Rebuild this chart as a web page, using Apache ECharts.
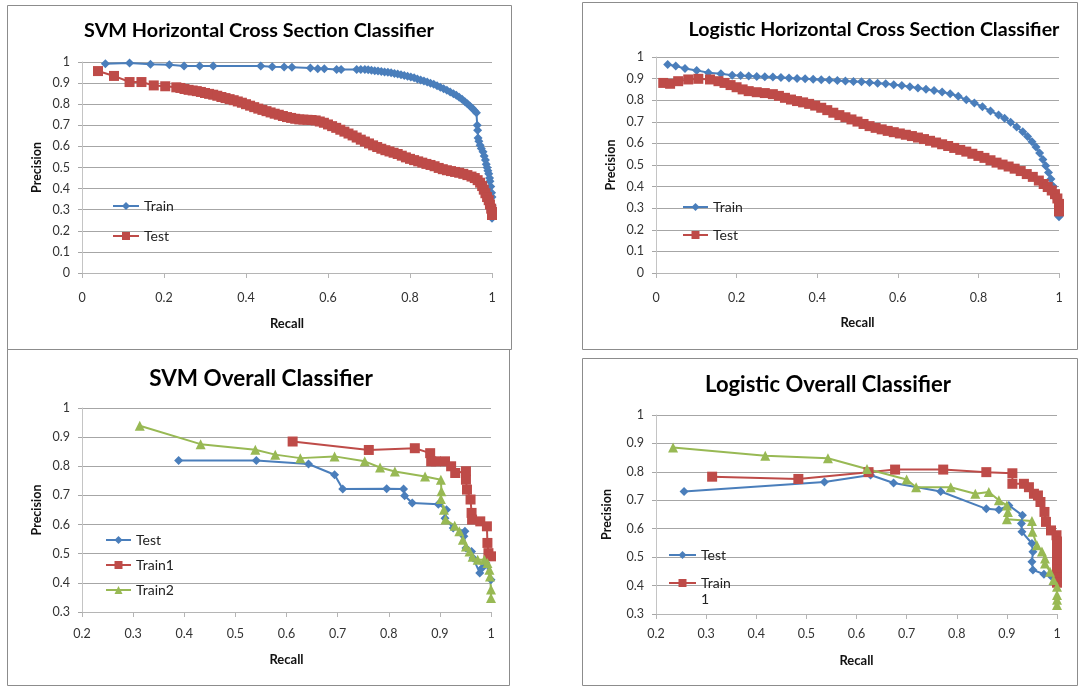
<!DOCTYPE html>
<html>
<head>
<meta charset="utf-8">
<script src="https://cdn.jsdelivr.net/npm/echarts@6/dist/echarts.min.js"></script>
<style>
html,body{margin:0;padding:0;background:#fff;}
#c{position:absolute;left:0;top:0;width:1079px;height:686px;}
</style>
</head>
<body>
<div id="c"></div>
<script>
// ---------- Data (recall, precision) ----------
const svmHcsTrain = [[0.057,0.992],[0.116,0.995],[0.167,0.989],[0.213,0.987],[0.249,0.981],[0.287,0.981],[0.320,0.981],[0.436,0.981],[0.464,0.978],[0.493,0.976],[0.512,0.975],[0.557,0.972],[0.575,0.968],[0.591,0.968],[0.621,0.965],[0.632,0.965],[0.670,0.965],[0.680,0.965],[0.690,0.964],[0.698,0.963],[0.706,0.961],[0.714,0.959],[0.722,0.957],[0.730,0.955],[0.738,0.953],[0.746,0.951],[0.754,0.949],[0.762,0.946],[0.770,0.943],[0.778,0.940],[0.786,0.936],[0.794,0.933],[0.802,0.929],[0.810,0.925],[0.818,0.920],[0.826,0.915],[0.834,0.910],[0.842,0.905],[0.850,0.899],[0.858,0.894],[0.866,0.887],[0.874,0.880],[0.882,0.873],[0.890,0.866],[0.898,0.858],[0.906,0.850],[0.913,0.842],[0.920,0.833],[0.927,0.823],[0.934,0.812],[0.940,0.802],[0.946,0.792],[0.952,0.781],[0.957,0.770],[0.962,0.760],[0.964,0.700],[0.965,0.676],[0.966,0.640],[0.968,0.625],[0.971,0.605],[0.974,0.590],[0.978,0.575],[0.981,0.555],[0.984,0.535],[0.986,0.515],[0.988,0.500],[0.990,0.485],[0.992,0.470],[0.994,0.450],[0.995,0.435],[0.997,0.410],[0.999,0.380],[1.000,0.360],[1.000,0.320],[1.000,0.290],[1.000,0.260]];
const svmHcsTest = [[0.039,0.957],[0.078,0.934],[0.116,0.905],[0.145,0.905],[0.175,0.889],[0.203,0.885],[0.230,0.880],[0.240,0.877],[0.250,0.872],[0.260,0.868],[0.270,0.865],[0.280,0.862],[0.290,0.858],[0.300,0.853],[0.310,0.849],[0.320,0.845],[0.330,0.840],[0.340,0.834],[0.350,0.829],[0.360,0.824],[0.370,0.819],[0.380,0.813],[0.390,0.807],[0.400,0.800],[0.410,0.793],[0.420,0.786],[0.430,0.779],[0.440,0.773],[0.450,0.767],[0.460,0.761],[0.470,0.755],[0.480,0.750],[0.490,0.744],[0.500,0.739],[0.510,0.735],[0.520,0.731],[0.530,0.728],[0.540,0.727],[0.550,0.726],[0.560,0.725],[0.570,0.723],[0.580,0.718],[0.590,0.712],[0.600,0.704],[0.610,0.696],[0.620,0.688],[0.630,0.679],[0.640,0.670],[0.650,0.661],[0.660,0.652],[0.670,0.642],[0.680,0.632],[0.690,0.623],[0.700,0.614],[0.710,0.605],[0.720,0.597],[0.730,0.589],[0.740,0.582],[0.750,0.576],[0.760,0.570],[0.770,0.564],[0.780,0.556],[0.790,0.548],[0.800,0.541],[0.810,0.535],[0.820,0.529],[0.830,0.523],[0.840,0.517],[0.850,0.512],[0.860,0.506],[0.870,0.498],[0.880,0.492],[0.890,0.487],[0.900,0.483],[0.910,0.479],[0.920,0.475],[0.930,0.470],[0.940,0.464],[0.950,0.457],[0.958,0.450],[0.965,0.440],[0.971,0.428],[0.976,0.412],[0.980,0.395],[0.984,0.378],[0.988,0.360],[0.992,0.345],[0.995,0.325],[0.998,0.305],[1.000,0.290],[1.000,0.275]];
const logHcsTrain = [[0.029,0.965],[0.049,0.958],[0.072,0.947],[0.101,0.938],[0.130,0.927],[0.161,0.922],[0.189,0.916],[0.210,0.914],[0.230,0.912],[0.250,0.910],[0.270,0.909],[0.290,0.907],[0.310,0.905],[0.330,0.903],[0.350,0.901],[0.370,0.899],[0.390,0.897],[0.410,0.895],[0.430,0.893],[0.450,0.891],[0.470,0.889],[0.490,0.887],[0.510,0.885],[0.530,0.882],[0.550,0.879],[0.570,0.876],[0.590,0.872],[0.610,0.868],[0.630,0.862],[0.650,0.857],[0.670,0.851],[0.690,0.845],[0.710,0.838],[0.730,0.830],[0.750,0.818],[0.770,0.802],[0.790,0.787],[0.810,0.770],[0.830,0.750],[0.850,0.732],[0.865,0.716],[0.880,0.698],[0.895,0.676],[0.910,0.654],[0.922,0.632],[0.933,0.608],[0.943,0.583],[0.952,0.555],[0.960,0.525],[0.967,0.497],[0.974,0.465],[0.980,0.435],[0.986,0.400],[0.991,0.370],[0.995,0.340],[0.998,0.310],[1.000,0.285],[1.000,0.260]];
const logHcsTest = [[0.018,0.880],[0.035,0.876],[0.055,0.888],[0.080,0.896],[0.105,0.899],[0.134,0.896],[0.155,0.888],[0.170,0.880],[0.185,0.870],[0.200,0.860],[0.215,0.850],[0.230,0.842],[0.250,0.837],[0.270,0.833],[0.290,0.828],[0.305,0.820],[0.320,0.811],[0.335,0.803],[0.350,0.796],[0.365,0.790],[0.380,0.783],[0.395,0.775],[0.410,0.765],[0.425,0.754],[0.440,0.742],[0.455,0.731],[0.470,0.721],[0.485,0.711],[0.500,0.701],[0.515,0.690],[0.530,0.680],[0.545,0.672],[0.560,0.665],[0.575,0.658],[0.590,0.652],[0.605,0.646],[0.620,0.640],[0.635,0.634],[0.650,0.627],[0.665,0.620],[0.680,0.612],[0.695,0.604],[0.710,0.596],[0.725,0.588],[0.740,0.579],[0.755,0.570],[0.770,0.562],[0.785,0.552],[0.800,0.542],[0.815,0.533],[0.830,0.522],[0.845,0.511],[0.860,0.502],[0.875,0.493],[0.890,0.483],[0.905,0.472],[0.920,0.458],[0.935,0.445],[0.950,0.428],[0.962,0.412],[0.972,0.398],[0.982,0.382],[0.990,0.365],[0.996,0.345],[1.000,0.320],[1.000,0.285]];
const svmOvTest = [[0.389,0.820],[0.541,0.820],[0.643,0.808],[0.694,0.771],[0.710,0.722],[0.796,0.723],[0.829,0.722],[0.831,0.699],[0.846,0.674],[0.897,0.670],[0.913,0.651],[0.910,0.622],[0.926,0.588],[0.949,0.577],[0.947,0.560],[0.951,0.520],[0.962,0.508],[0.965,0.485],[0.978,0.434],[0.982,0.450],[0.990,0.468],[1.000,0.411]];
const svmOvTrain1 = [[0.612,0.885],[0.761,0.856],[0.851,0.862],[0.881,0.845],[0.883,0.817],[0.892,0.817],[0.910,0.817],[0.922,0.800],[0.930,0.777],[0.951,0.783],[0.951,0.754],[0.953,0.720],[0.960,0.686],[0.962,0.640],[0.963,0.617],[0.979,0.611],[0.992,0.594],[0.993,0.537],[0.995,0.502],[1.000,0.491]];
const svmOvTrain2 = [[0.313,0.939],[0.432,0.876],[0.539,0.857],[0.578,0.840],[0.627,0.828],[0.694,0.834],[0.753,0.817],[0.783,0.796],[0.812,0.782],[0.871,0.765],[0.902,0.754],[0.903,0.714],[0.902,0.688],[0.908,0.651],[0.911,0.617],[0.929,0.596],[0.938,0.577],[0.945,0.548],[0.951,0.525],[0.958,0.508],[0.964,0.490],[0.974,0.479],[0.987,0.479],[0.993,0.468],[0.997,0.445],[0.998,0.422],[1.000,0.377],[1.000,0.348]];
const logOvTest = [[0.256,0.731],[0.536,0.764],[0.628,0.789],[0.674,0.761],[0.768,0.731],[0.859,0.670],[0.884,0.667],[0.904,0.682],[0.931,0.647],[0.929,0.618],[0.930,0.589],[0.950,0.548],[0.952,0.519],[0.950,0.484],[0.952,0.455],[0.974,0.440],[0.990,0.430],[1.000,0.410]];
const logOvTrain1 = [[0.312,0.783],[0.484,0.775],[0.624,0.799],[0.677,0.808],[0.773,0.808],[0.859,0.799],[0.911,0.795],[0.911,0.758],[0.934,0.758],[0.944,0.746],[0.954,0.723],[0.962,0.717],[0.967,0.694],[0.975,0.659],[0.978,0.624],[0.988,0.594],[0.999,0.577],[1.000,0.555],[1.000,0.530],[1.000,0.505],[1.000,0.480],[1.000,0.455],[1.000,0.430],[1.000,0.410]];
const logOvTrain2 = [[0.234,0.886],[0.418,0.857],[0.543,0.848],[0.621,0.810],[0.700,0.773],[0.719,0.746],[0.788,0.746],[0.837,0.723],[0.864,0.729],[0.884,0.700],[0.900,0.682],[0.902,0.659],[0.900,0.633],[0.950,0.627],[0.951,0.589],[0.960,0.542],[0.970,0.520],[0.976,0.495],[0.976,0.478],[0.986,0.449],[0.993,0.420],[1.000,0.396],[1.000,0.367],[1.000,0.350],[1.000,0.332]];

const titles = ['SVM Horizontal Cross Section Classifier','Logistic Horizontal Cross Section Classifier','SVM Overall Classifier','Logistic Overall Classifier'];
const xAxisTitle = 'Recall';
const yAxisTitle = 'Precision';
const labelMap = {
  'tlTrain':'Train','tlTest':'Test','trTrain':'Train','trTest':'Test',
  'blTest':'Test','blTrain1':'Train1','blTrain2':'Train2',
  'brTest':'Test','brTrain1':'\nTrain\n1','brTrain2':'Train2'
};

// ---------- Styling ----------
const FONT = 'Lato, "Open Sans", "DejaVu Sans", sans-serif';
const BLUE = '#4a7ebb', RED = '#be4b48', GREEN = '#98b954';
const GRID_C = '#a6a6a6';

const grids = [
  {left:82, top:62, width:410, height:211},
  {left:656, top:57, width:403, height:216},
  {left:82, top:408, width:409, height:204},
  {left:656, top:415, width:401, height:199}
];
const xr = [[0,1,0.2],[0,1,0.2],[0.2,1,0.1],[0.2,1,0.1]];
const yr = [[0,1,0.1],[0,1,0.1],[0.3,1,0.1],[0.3,1,0.1]];
const xLabelMargin = [18,18,15,13];
const xNameGap = [44,43,41,40];
const yNameGap = [39,39,39,43];

const xAxes = grids.map((g,i)=>({
  type:'value', gridIndex:i, min:xr[i][0], max:xr[i][1], interval:xr[i][2],
  name:xAxisTitle, nameLocation:'middle', nameGap:xNameGap[i],
  nameTextStyle:{fontFamily:FONT, fontWeight:'bold', fontSize:13, color:'#111'},
  axisLine:{show:true, lineStyle:{color:'#b5b5b5', width:1}},
  axisTick:{show:true, length:5, lineStyle:{color:'#b5b5b5'}},
  axisLabel:{fontFamily:FONT, fontSize:12.5, color:'#333', margin:xLabelMargin[i]},
  splitLine:{show:false}
}));
const yAxes = grids.map((g,i)=>({
  type:'value', gridIndex:i, min:yr[i][0], max:yr[i][1], interval:yr[i][2],
  name:yAxisTitle, nameLocation:'middle', nameGap:yNameGap[i], nameRotate:90,
  nameTextStyle:{fontFamily:FONT, fontWeight:'bold', fontSize:12.5, color:'#111'},
  axisLine:{show:true, lineStyle:{color:'#c4c4c4', width:1}},
  axisTick:{show:true, length:4, lineStyle:{color:GRID_C}},
  axisLabel:{fontFamily:FONT, fontSize:12.5, color:'#333', margin:12},
  splitLine:{show:true, lineStyle:{color:GRID_C, width:1}}
}));

function mk(name, data, idx, color, symbol, size){
  return {
    name:name, type:'line', xAxisIndex:idx, yAxisIndex:idx, data:data,
    symbol:symbol, symbolSize:size, showSymbol:true,
    lineStyle:{color:color, width:2}, itemStyle:{color:color},
    emphasis:{disabled:true}, animation:false
  };
}
const series = [
  mk('tlTrain', svmHcsTrain, 0, BLUE, 'diamond', 9),
  mk('tlTest', svmHcsTest, 0, RED, 'rect', 10),
  mk('trTrain', logHcsTrain, 1, BLUE, 'diamond', 9),
  mk('trTest', logHcsTest, 1, RED, 'rect', 10),
  mk('blTest', svmOvTest, 2, BLUE, 'diamond', 9),
  mk('blTrain1', svmOvTrain1, 2, RED, 'rect', 10),
  mk('blTrain2', svmOvTrain2, 2, GREEN, 'triangle', 10),
  mk('brTest', logOvTest, 3, BLUE, 'diamond', 9),
  mk('brTrain1', logOvTrain1, 3, RED, 'rect', 10),
  mk('brTrain2', logOvTrain2, 3, GREEN, 'triangle', 10)
];

const legTxt = {fontFamily:FONT, fontSize:14, color:'#222'};
function leg(data, left, top, w, gap, extraText){
  return {
    data:data, orient:'vertical', left:left, top:top, itemWidth:w, itemHeight:10, itemGap:gap,
    padding:0, selectedMode:false, formatter:n=>labelMap[n],
    textStyle:Object.assign({}, legTxt, extraText||{})
  };
}
const legends = [
  leg(['tlTrain','tlTest'], 112, 199, 26, 16),
  leg(['trTrain','trTest'], 682, 200, 25, 14),
  leg(['blTest','blTrain1','blTrain2'], 105, 533, 25, 11),
  leg(['brTest'], 668, 548, 27, 10),
  leg(['brTrain1'], 668, 559, 27, 10, {lineHeight:16})
];

function box(x1,y1,x2,y2){
  return {type:'rect', silent:true, z:-10,
    shape:{x:x1+0.5, y:y1+0.5, width:x2-x1, height:y2-y1},
    style:{fill:'none', stroke:'#8c8c8c', lineWidth:1}};
}
function ttl(text, x, y, size){
  return {type:'text', silent:true, x:x, y:y,
    style:{text:text, font:'bold '+size+'px '+FONT, fill:'#000', align:'center', verticalAlign:'middle'}};
}

const chart = echarts.init(document.getElementById('c'), null, {renderer:'canvas'});
chart.setOption({
  animation:false,
  backgroundColor:'#fff',
  grid:grids.map(g=>Object.assign({containLabel:false}, g)),
  xAxis:xAxes, yAxis:yAxes, legend:legends, series:series,
  graphic:[
    box(7,5,511,349), box(582,2,1077,349), box(7,349,509,685), box(582,358,1077,685),
    ttl(titles[0], 259, 31, 19.8), ttl(titles[1], 874, 30, 19.6),
    ttl(titles[2], 261, 379, 22.5), ttl(titles[3], 828, 385, 22)
  ]
});
</script>
</body>
</html>
